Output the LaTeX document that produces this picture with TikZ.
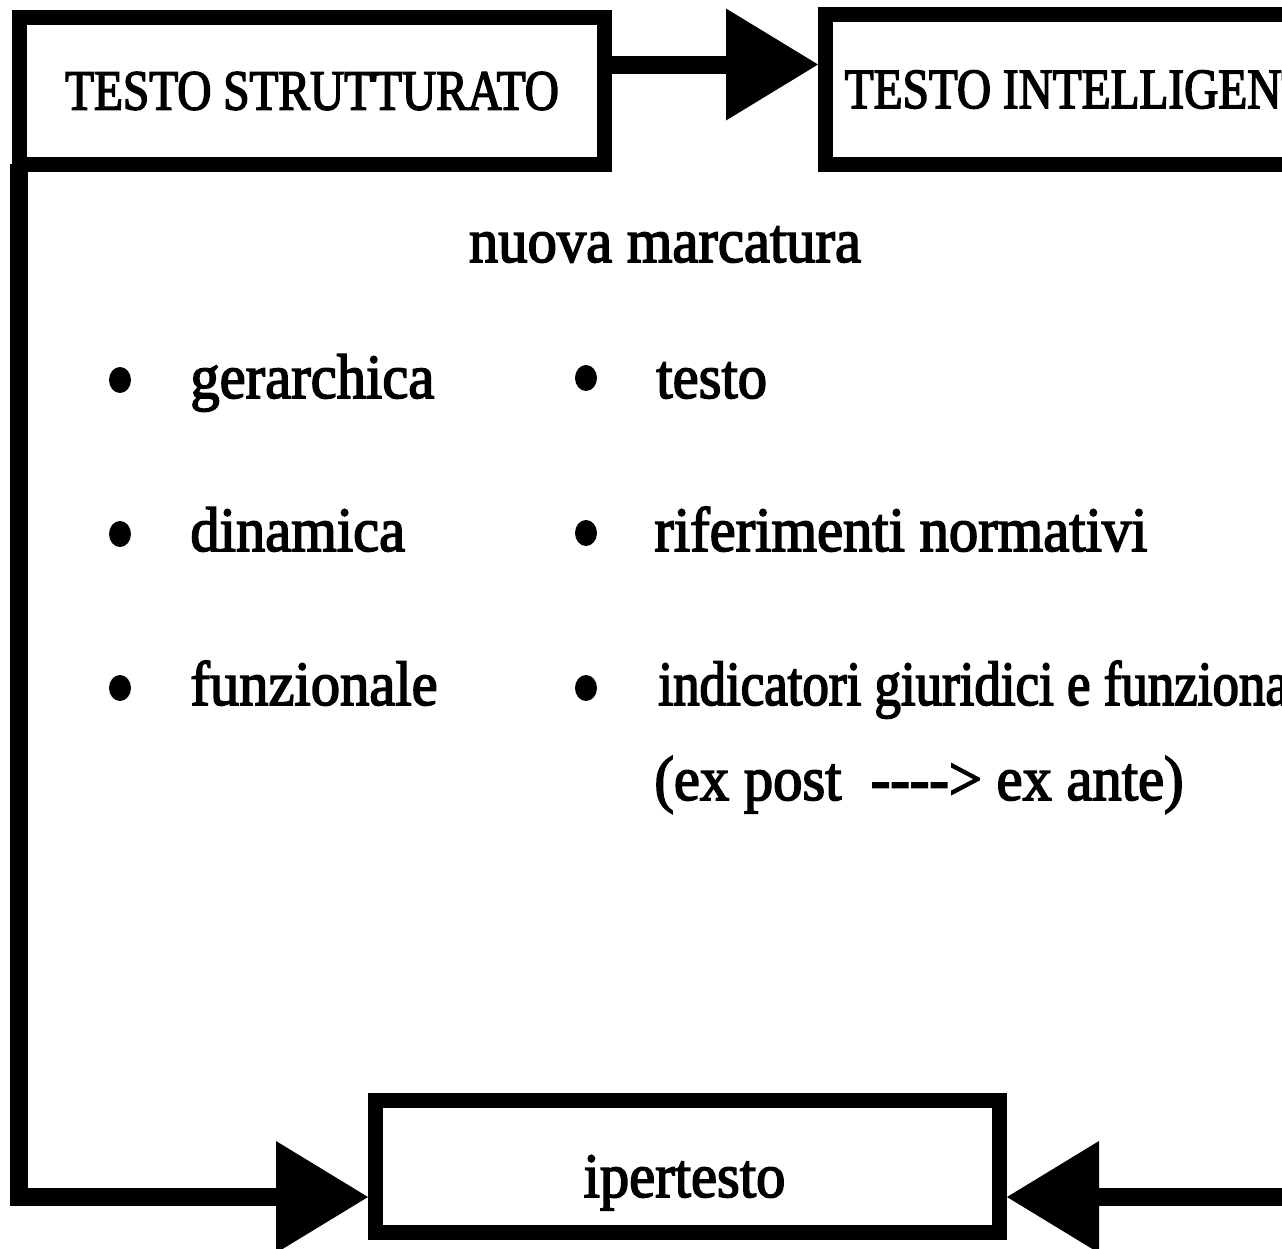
\documentclass[tikz,border=0pt]{standalone}
\usepackage{fontspec}
\setmainfont{Liberation Serif}[FakeStretch=0.93,FakeBold=2.5]
\newfontfamily\headfont{Liberation Serif}[FakeStretch=0.83,FakeBold=2.5]
\newfontfamily\tightfont{Liberation Serif}[FakeStretch=0.84,FakeBold=2.5]
\usetikzlibrary{arrows.meta,shapes.geometric}
\begin{document}
\begin{tikzpicture}[x=0.5pt,y=-0.5pt,
  boxstyle/.style={draw, line width=7.5pt, inner sep=0pt, rectangle},
  headtext/.style={font=\headfont\fontsize{28.5pt}{30pt}\selectfont},
  bodytext/.style={font=\fontsize{31.5pt}{34pt}\selectfont, inner sep=0pt},
  conn/.style={line width=9pt, line join=miter,
    -{Triangle[length=46pt,width=56pt,line width=0pt]}},
  dot/.style={ellipse, fill, draw=none, minimum width=11pt, minimum height=13pt, inner sep=0pt}]
\useasboundingbox (0,0) rectangle (1282,1249);
\clip (0,0) rectangle (1282,1249);
% boxes
\node[boxstyle, minimum width=292.5pt, minimum height=73.5pt, headtext] (box1) at (312,91) {TESTO STRUTTURATO};
\node[boxstyle, minimum width=266.5pt, minimum height=75pt, headtext] (box2) at (1092,89.5) {TESTO INTELLIGENTE};
\node[boxstyle, minimum width=312pt, minimum height=66pt] (ip) at (687.5,1166.5) {};
\node[bodytext, anchor=base] (iptext) at (684.5,1197) {ipertesto};
% connectors
\draw[conn] ([yshift=13.25pt]box1.east) -- ([yshift=12.5pt]box2.west);
\coordinate (lc) at (19,1197);
\coordinate (rc) at (1320,1197);
\draw[conn] ([yshift=4pt]box1.south -| lc) -- (lc) -- (ip.west |- lc);
\draw[conn] (box2.south -| rc) -- (rc) -- (ip.east |- rc);
% heading
\node[bodytext, anchor=base] (nm) at (665,262) {nuova marcatura};
% bullets
\node[dot] (d1) at (120,380) {};
\node[dot] (d2) at (120,534) {};
\node[dot] (d3) at (120,688) {};
\node[dot] (d4) at (586,378) {};
\node[dot] (d5) at (586,533) {};
\node[dot] (d6) at (586,688) {};
\node[bodytext, anchor=base west] (t1) at (190,398) {gerarchica};
\node[bodytext, anchor=base west] (t2) at (190,551) {dinamica};
\node[bodytext, anchor=base west] (t3) at (190,705) {funzionale};
\node[bodytext, anchor=base west] (t4) at (656,398) {testo};
\node[bodytext, anchor=base west] (t5) at (654,551) {riferimenti normativi};
\node[bodytext, anchor=base west, font=\tightfont\fontsize{31.5pt}{34pt}\selectfont] (t6) at (658,705) {indicatori giuridici e funzionali};
\node[bodytext, anchor=base west] (t7) at (654,800) {(ex post\ \ -{}-{}-{}-> ex ante)};
\end{tikzpicture}
\end{document}
